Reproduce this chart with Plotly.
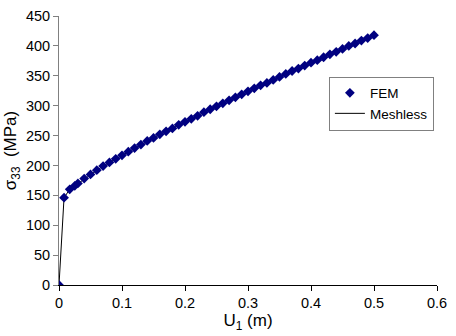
import plotly.graph_objects as go

u1 = [0, 0.008, 0.017, 0.025, 0.03, 0.04, 0.05, 0.06, 0.07, 0.08, 0.09, 0.10,
      0.11, 0.12, 0.13, 0.14, 0.15, 0.16, 0.17, 0.18, 0.19, 0.20,
      0.21, 0.22, 0.23, 0.24, 0.25, 0.26, 0.27, 0.28, 0.29, 0.30,
      0.31, 0.32, 0.33, 0.34, 0.35, 0.36, 0.37, 0.38, 0.39, 0.40,
      0.41, 0.42, 0.43, 0.44, 0.45, 0.46, 0.47, 0.48, 0.49, 0.50]
sigma33 = [0, 146, 160, 166, 170, 178, 185, 192, 199, 205, 211, 217,
           223, 229, 235, 241, 246, 252, 257, 262, 268, 273,
           278, 283, 289, 294, 299, 304, 309, 314, 319, 324,
           329, 334, 338, 343, 348, 353, 358, 362, 367, 372,
           376, 381, 386, 390, 395, 400, 404, 409, 413, 418]

x_ticks = [0, 0.1, 0.2, 0.3, 0.4, 0.5, 0.6]
y_ticks = [0, 50, 100, 150, 200, 250, 300, 350, 400, 450]

fig = go.Figure()
fig.add_trace(go.Scatter(x=u1, y=sigma33, mode="lines", name="Meshless",
                         line=dict(color="black", width=1)))
fig.add_trace(go.Scatter(x=u1, y=sigma33, mode="markers", name="FEM",
                         marker=dict(symbol="diamond", size=7.5, color="#000080")))

font = dict(family="Liberation Sans, Arial, sans-serif", size=14.5, color="black")
fig.update_layout(
    width=456, height=336,
    margin=dict(l=59, r=19, t=8, b=51),
    paper_bgcolor="white", plot_bgcolor="white",
    font=font,
    showlegend=True,
    legend=dict(x=0.714, y=0.775, xanchor="left", yanchor="top",
                bordercolor="#808080", borderwidth=1, bgcolor="white",
                traceorder="reversed", font=dict(size=13.5),
                tracegroupgap=0, itemwidth=30),
    xaxis=dict(range=[0, 0.6], tickvals=x_ticks, ticktext=[str(v) for v in x_ticks],
               showgrid=False, zeroline=False, showline=True, linecolor="black",
               linewidth=1, ticks="outside", ticklen=5, tickcolor="black",
               title=dict(text="U<sub>1</sub> (m)", standoff=2)),
    yaxis=dict(range=[0, 450], tickvals=y_ticks,
               showgrid=False, zeroline=False, showline=True, linecolor="#808080",
               linewidth=1, ticks="outside", ticklen=5, tickcolor="#808080",
               title=dict(text="σ<sub>33</sub>  (MPa)", standoff=4)),
)
fig.write_html("out.html")
